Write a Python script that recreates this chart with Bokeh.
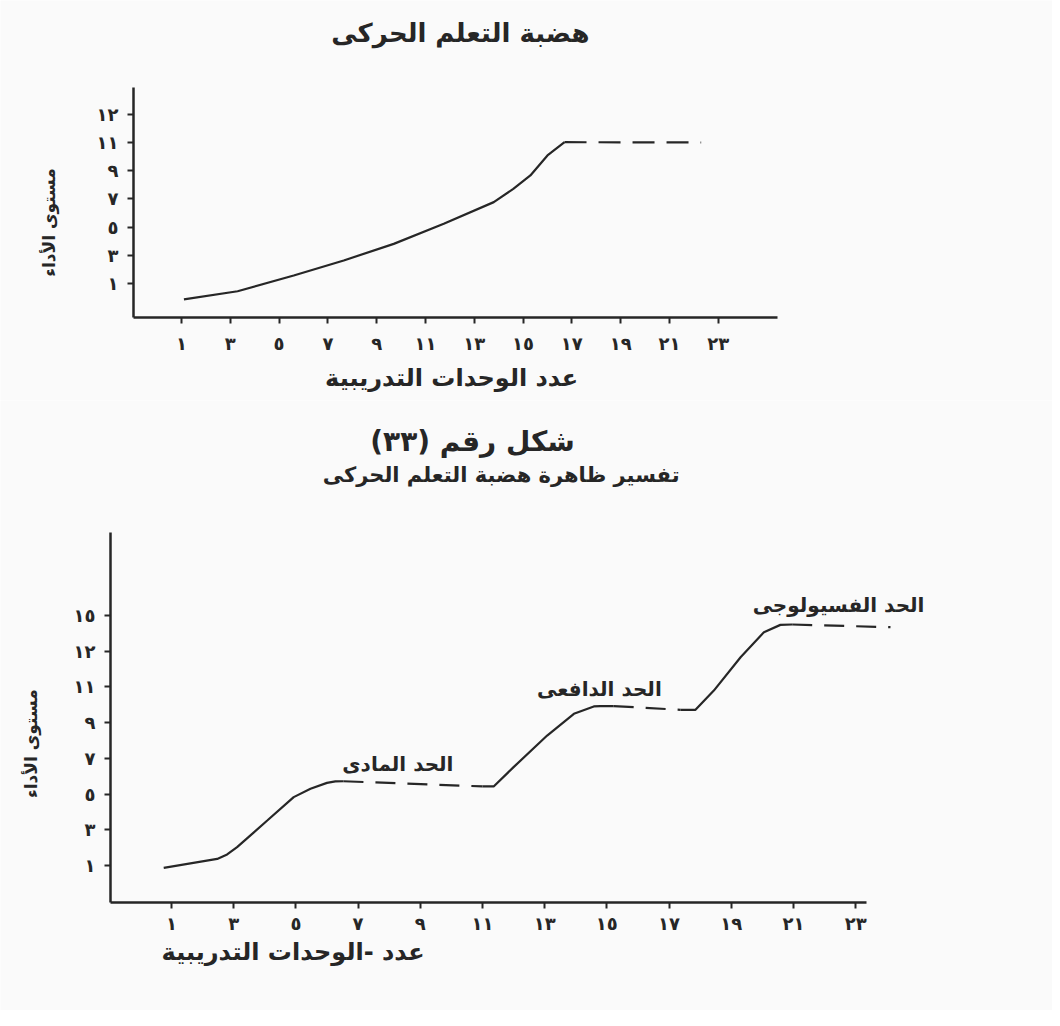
from bokeh.plotting import figure
from bokeh.models import FixedTicker, Range1d, ColumnDataSource, LinearAxis
from bokeh.layouts import column
from bokeh.core.properties import value
from bokeh.embed import file_html
from bokeh.resources import INLINE

# ---------------- data ----------------
# Top chart: motor learning plateau
top_title = "هضبة التعلم الحركى"
top_x = [1.1, 3.3, 5.6, 7.65, 9.7, 11.75, 13.8, 14.6, 15.3, 16.0, 16.7]
top_y = [-0.13, 0.45, 1.57, 2.63, 3.81, 5.23, 6.77, 7.71, 8.66, 10.08, 11.02]
top_plateau_x = [16.7, 22.3]
top_plateau_y = [11.02, 11.0]
top_y_ticks = [1, 3, 5, 7, 9, 11, 13]
top_y_tick_labels = ["١", "٣", "٥", "٧", "٩", "١١", "١٢"]

x_ticks = [1, 3, 5, 7, 9, 11, 13, 15, 17, 19, 21, 23]
x_tick_labels = ["١", "٣", "٥", "٧", "٩", "١١", "١٣", "١٥", "١٧", "١٩", "٢١", "٢٣"]

x_axis_title = "عدد الوحدات التدريبية"
x_axis_title_2 = "عدد -الوحدات التدريبية"
y_axis_title = "مستوى الأداء"

caption_1 = "شكل رقم (٣٣)"
caption_2 = "تفسير ظاهرة هضبة التعلم الحركى"

# Bottom chart: explanation of the plateau (three limits)
rise1_x = [0.75, 2.47, 2.79, 3.11, 4.08, 4.93, 5.47, 6.0, 6.27, 6.53]
rise1_y = [0.87, 1.37, 1.62, 2.03, 3.52, 4.83, 5.3, 5.63, 5.71, 5.72]
flat1_x = [6.53, 11.0]
flat1_y = [5.72, 5.43]
rise2_x = [11.0, 11.36, 12.0, 13.08, 13.94, 14.58, 14.79, 15.22]
rise2_y = [5.43, 5.43, 6.51, 8.28, 9.5, 9.91, 9.93, 9.93]
flat2_x = [15.22, 17.37]
flat2_y = [9.93, 9.72]
rise3_x = [17.37, 17.85, 18.44, 19.3, 20.05, 20.58, 20.96]
rise3_y = [9.72, 9.72, 10.8, 12.67, 14.07, 14.48, 14.5]
flat3_x = [20.96, 24.12]
flat3_y = [14.5, 14.35]

bottom_y_ticks = [1, 3, 5, 7, 9, 11, 13, 15]
bottom_y_tick_labels = ["١", "٣", "٥", "٧", "٩", "١١", "١٢", "١٥"]

limit_names = ["الحد المادى", "الحد الدافعى", "الحد الفسيولوجى"]
limit_x = [8.28, 14.76, 22.45]
limit_y = [6.66, 10.9, 15.57]

# ---------------- style ----------------
FONT = "DejaVu Sans"
INK = "#262626"
PAPER = "#fafafa"


def make_fig(height, xr, yr, x0, x1, y0, y1, yticks, ylabels, x_standoff):
    p = figure(width=1052, height=height, output_backend="svg", toolbar_location=None,
               x_range=Range1d(*xr), y_range=Range1d(*yr),
               x_axis_type=None, y_axis_type=None,
               min_border=0, min_border_left=0, min_border_right=0,
               min_border_top=0, min_border_bottom=0)
    xa = LinearAxis(fixed_location=y0, bounds=(x0, x1),
                    ticker=FixedTicker(ticks=x_ticks),
                    major_label_overrides=dict(zip(x_ticks, x_tick_labels)))
    ya = LinearAxis(fixed_location=x0, bounds=(y0, y1),
                    ticker=FixedTicker(ticks=yticks),
                    major_label_overrides=dict(zip(yticks, ylabels)))
    for ax in (xa, ya):
        ax.axis_line_width = 2.5
        ax.axis_line_color = INK
        ax.major_tick_line_width = 2
        ax.major_tick_line_color = INK
        ax.major_tick_out = 6
        ax.major_tick_in = 0
        ax.minor_tick_line_color = None
        ax.major_label_text_font = FONT
        ax.major_label_text_font_style = "bold"
        ax.major_label_text_font_size = "18px"
        ax.major_label_text_color = INK
    ya.major_label_standoff = 9
    xa.major_label_standoff = x_standoff
    p.add_layout(xa, "below")
    p.add_layout(ya, "left")
    p.xgrid.visible = False
    p.ygrid.visible = False
    p.outline_line_color = None
    p.background_fill_color = PAPER
    p.border_fill_color = PAPER
    return p


def add_text(p, xs, ys, texts, size, angle=0.0):
    src = ColumnDataSource(dict(x=xs, y=ys, t=texts))
    p.text(x="x", y="y", text="t", source=src, angle=angle,
           text_font=value(FONT), text_font_size=size, text_font_style="bold",
           text_color=INK, text_align="center", text_baseline="middle")


# ---------------- top figure (canvas = page 0..1052 x 0..400) ----------------
p1 = make_fig(400, (-6.418, 36.70), (-7.30, 21.07), -0.967, 25.43, -1.41, 14.90,
              top_y_ticks, top_y_tick_labels, 10)
p1.line(top_x, top_y, line_color=INK, line_width=2.2)
p1.line(top_plateau_x, top_plateau_y, line_color=INK, line_width=2.2, line_dash="22 12")

add_text(p1, [12.43], [18.73], [top_title], "26px")
add_text(p1, [12.07], [-5.67], [x_axis_title], "24px")
add_text(p1, [-4.45], [5.33], [y_axis_title], "17px", angle=1.5708)

# ---------------- bottom figure (canvas = page 0..1052 x 400..1010) ----------------
p2 = make_fig(610, (-4.498, 29.33), (-7.123, 27.05), -0.961, 23.35, -1.073, 19.66,
              bottom_y_ticks, bottom_y_tick_labels, 4)

for xs, ys in ((rise1_x, rise1_y), (rise2_x, rise2_y), (rise3_x, rise3_y)):
    p2.line(xs, ys, line_color=INK, line_width=2.2)
for xs, ys in ((flat1_x, flat1_y), (flat2_x, flat2_y), (flat3_x, flat3_y)):
    p2.line(xs, ys, line_color=INK, line_width=2.2, line_dash="20 12")

add_text(p2, limit_x, limit_y, limit_names, "20px")
add_text(p2, [10.68], [24.74], [caption_1], "28px")
add_text(p2, [11.6], [22.85], [caption_2], "21px")
add_text(p2, [4.91], [-3.82], [x_axis_title_2], "24px")
add_text(p2, [-3.53], [7.83], [y_axis_title], "17px", angle=1.5708)

layout = column(p1, p2, spacing=0)
open("out.html", "w").write(file_html(layout, INLINE))
